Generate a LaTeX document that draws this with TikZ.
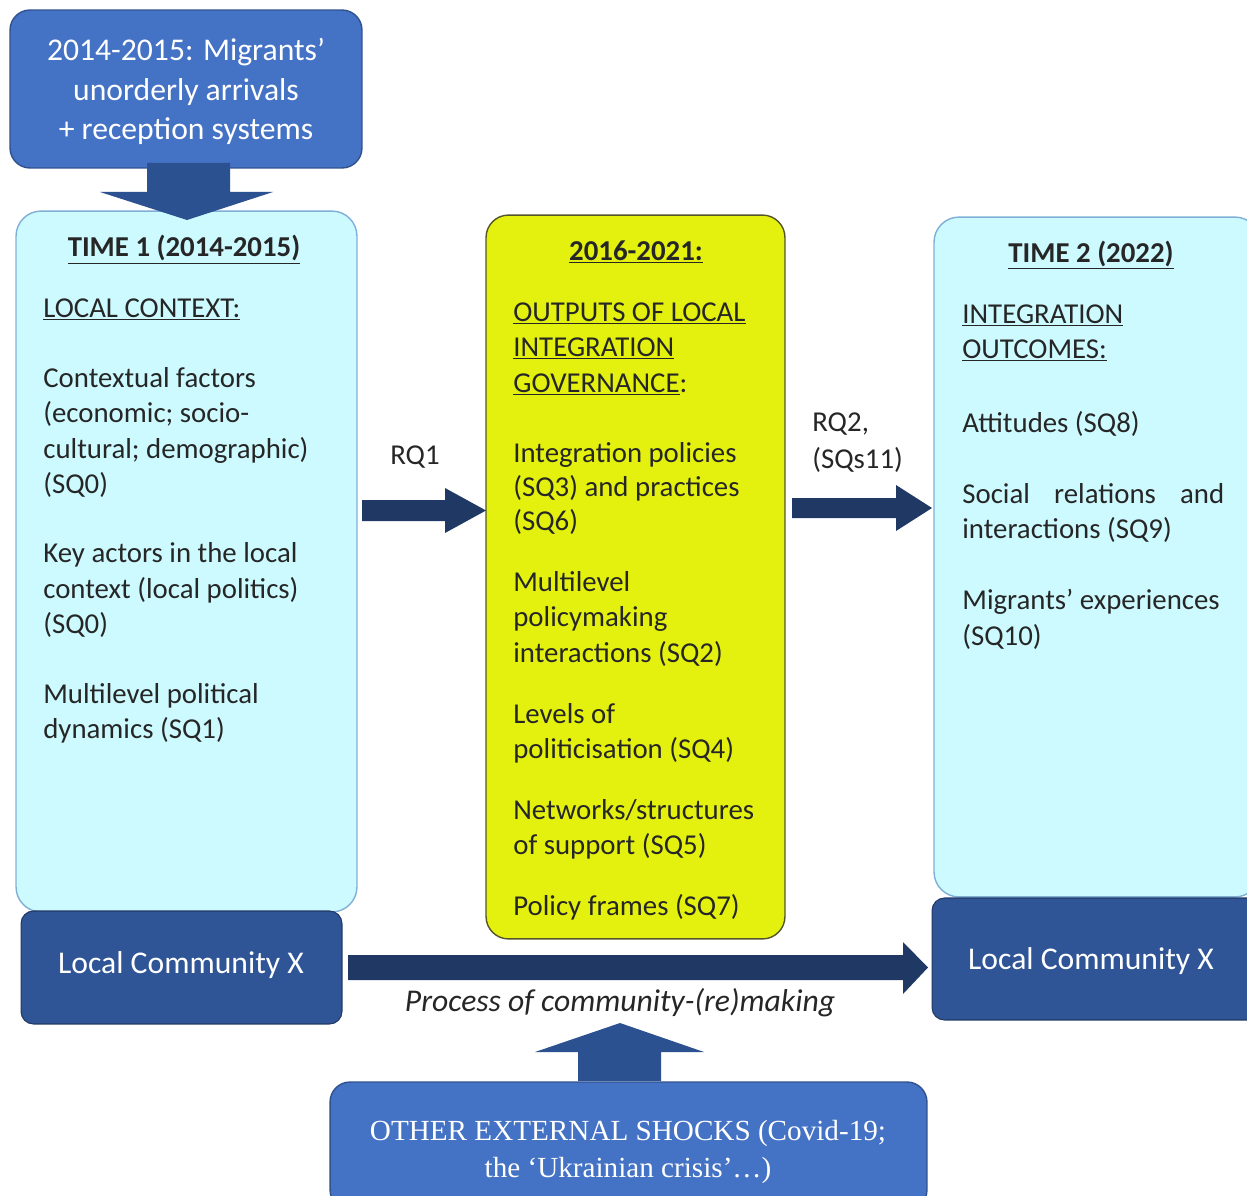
\documentclass[tikz,border=0pt]{standalone}
\usepackage{fontspec}
\setmainfont{Carlito}
\newfontfamily\serifx{Liberation Serif}
\definecolor{topblue}{HTML}{4472C4}
\definecolor{topedge}{HTML}{2F528F}
\definecolor{locblue}{HTML}{2F5597}
\definecolor{locedge}{HTML}{203864}
\definecolor{navy}{HTML}{1F3864}
\definecolor{midnavy}{HTML}{2B5190}
\definecolor{cyanfill}{HTML}{CCFAFF}
\definecolor{cyanedge}{HTML}{7FAFD6}
\definecolor{yel}{HTML}{E4F10E}
\definecolor{yeledge}{HTML}{55552A}
\definecolor{txt}{HTML}{262626}
\tikzset{
  bodytxt/.style={anchor=base west, inner sep=0pt, text=txt, font=\fontsize{16.4}{19.9}\selectfont},
  bodyctr/.style={anchor=base, inner sep=0pt, text=txt, font=\fontsize{16.4}{19.9}\selectfont},
  timebox/.style={draw=cyanedge, line width=0.8pt, fill=cyanfill, rounded corners=0.5cm, inner sep=0pt},
  locbox/.style={draw=locedge, line width=0.6pt, fill=locblue, rounded corners=0.25cm, inner sep=0pt},
  shockbox/.style={draw=topedge, line width=0.8pt, fill=topblue, rounded corners=0.4cm, inner sep=0pt},
  whitetxt/.style={text=white, inner sep=0pt, align=center},
}
\begin{document}
\begin{tikzpicture}[x=0.02cm,y=-0.02cm]
\useasboundingbox (0,0) rectangle (1247,1196);

% top box
\node[shockbox, minimum width=7.04cm, minimum height=3.16cm] (top) at (186,89) {};
\node[whitetxt, font=\fontsize{18}{22.4}\selectfont] (toptxt) at (186,91.5) {2014-2015: Migrants'\\unorderly arrivals\\+ reception systems};

% boxes
\node[timebox, minimum width=6.82cm, minimum height=14.02cm] (t1) at (186.5,561.5) {};
\node[draw=yeledge, line width=0.8pt, fill=yel, rounded corners=0.45cm, minimum width=5.98cm, minimum height=14.48cm] (mid) at (635.5,577) {};
\node[timebox, minimum width=6.52cm, minimum height=13.6cm] (t2) at (1097,557) {};
\node[locbox, minimum width=6.42cm, minimum height=2.26cm] (locL) at (181.5,967.5) {};
\node[locbox, minimum width=6.56cm, minimum height=2.44cm] (locR) at (1096,959) {};
\node[shockbox, minimum width=11.94cm, minimum height=2.56cm] (shock) at (628.5,1146) {};

% down arrow from top box into TIME 1
\fill[midnavy] (147,163) -- (230,163) -- (230,192) -- (273,192) -- (187,220) -- (100,192) -- (147,192) -- cycle;

% up arrow from shocks
\fill[midnavy] (578,1081) -- (578,1052) -- (535,1052) -- (620,1023) -- (704,1052) -- (661,1052) -- (661,1081) -- cycle;

% RQ1 arrow
\fill[navy] (362,500) -- (445,500) -- (445,488) -- (486,510.5) -- (445,533) -- (445,521) -- (362,521) -- cycle;
% RQ2 arrow
\fill[navy] (792,498) -- (896,498) -- (896,485) -- (932,508) -- (896,531) -- (896,518) -- (792,518) -- cycle;
% process arrow
\fill[navy] (348,955) -- (903,955) -- (903,942) -- (928,967.5) -- (903,994) -- (903,980) -- (348,980) -- cycle;

% texts in white boxes
\node[whitetxt, font=\fontsize{18}{22}\selectfont] (locLt) at (181,965) {Local Community X};
\node[whitetxt, font=\fontsize{18}{22}\selectfont] (locRt) at (1091,961) {Local Community X};
\node[whitetxt, font=\serifx\fontsize{16.6}{21}\selectfont] (shockt) at (628,1152) {OTHER EXTERNAL SHOCKS (Covid-19;\\the ‘Ukrainian crisis’…)};

% process label
\node[anchor=base, inner sep=0pt, text=txt, font=\fontsize{18}{20}\selectfont\itshape] (proc) at (620,1011) {Process of community-(re)making};

% RQ labels
\node[bodytxt] (rq1) at (390,464) {RQ1};
\node[bodytxt] (rq2a) at (812,431) {RQ2,};
\node[bodytxt] (rq2b) at (812,468) {(SQs11)};

% TIME 1 texts
\node[bodyctr] (t1h) at (184,256.5) {\textbf{\underline{TIME 1 (2014-2015)}}};
\node[bodytxt] (t1a) at (43,317) {\underline{LOCAL CONTEXT:}};
\node[bodytxt] (t1b) at (43,387) {Contextual factors};
\node[bodytxt] (t1c) at (43,422) {(economic; socio-};
\node[bodytxt] (t1d) at (43,458) {cultural; demographic)};
\node[bodytxt] (t1e) at (43,493) {(SQ0)};
\node[bodytxt] (t1f) at (43,562) {Key actors in the local};
\node[bodytxt] (t1g) at (43,598) {context (local politics)};
\node[bodytxt] (t1i) at (43,633) {(SQ0)};
\node[bodytxt] (t1j) at (43,703) {Multilevel political};
\node[bodytxt] (t1k) at (43,738) {dynamics (SQ1)};

% middle texts
\node[bodyctr] (mh) at (636,260) {\textbf{\underline{2016-2021:}}};
\node[bodytxt] (m1) at (513,321) {\underline{OUTPUTS OF LOCAL}};
\node[bodytxt] (m2) at (513,356) {\underline{INTEGRATION}};
\node[bodytxt] (m3) at (513,392) {\underline{GOVERNANCE}:};
\node[bodytxt] (m4) at (513,462) {Integration policies};
\node[bodytxt] (m5) at (513,496) {(SQ3) and practices};
\node[bodytxt] (m6) at (513,530) {(SQ6)};
\node[bodytxt] (m7) at (513,591) {Multilevel};
\node[bodytxt] (m8) at (513,626) {policymaking};
\node[bodytxt] (m9) at (513,662) {interactions (SQ2)};
\node[bodytxt] (m10) at (513,723) {Levels of};
\node[bodytxt] (m11) at (513,758) {politicisation (SQ4)};
\node[bodytxt] (m12) at (513,819) {Networks/structures};
\node[bodytxt] (m13) at (513,854) {of support (SQ5)};
\node[bodytxt] (m14) at (513,915) {Policy frames (SQ7)};

% TIME 2 texts
\node[bodyctr] (t2h) at (1091,262) {\textbf{\underline{TIME 2 (2022)}}};
\node[bodytxt] (r1) at (962,323) {\underline{INTEGRATION}};
\node[bodytxt] (r2) at (962,358) {\underline{OUTCOMES:}};
\node[bodytxt] (r3) at (962,432) {Attitudes (SQ8)};
\node[bodytxt] (r4) at (962,503) {\makebox[5.24cm][s]{Social\hfill relations\hfill and}};
\node[bodytxt] (r5) at (962,538) {interactions (SQ9)};
\node[bodytxt] (r6) at (962,609) {Migrants' experiences};
\node[bodytxt] (r7) at (962,645) {(SQ10)};
\end{tikzpicture}
\end{document}
